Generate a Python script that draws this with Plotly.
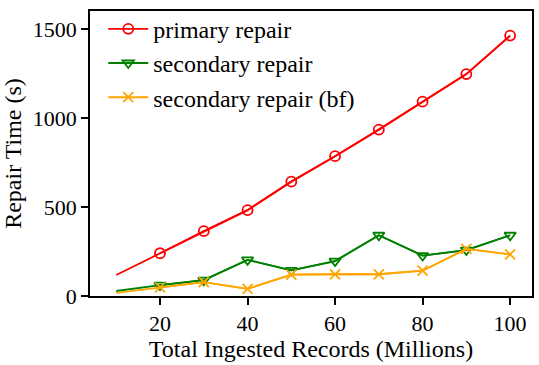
import plotly.graph_objects as go

records = [10, 20, 30, 40, 50, 60, 70, 80, 90, 100]
primary_repair = [118, 240, 364, 482, 642, 785, 934, 1091, 1246, 1462]
secondary_repair = [28, 61, 89, 203, 144, 196, 341, 227, 258, 341]
secondary_repair_bf = [18, 48, 78, 40, 120, 122, 122, 142, 264, 234]

series = [
    ("primary repair", primary_repair, "#ff0000", "circle-open"),
    ("secondary repair", secondary_repair, "#008000", "triangle-down-open"),
    ("secondary repair (bf)", secondary_repair_bf, "#ffa500", "x-thin-open"),
]

font = "Liberation Serif"

fig = go.Figure()
for name, ys, color, symbol in series:
    # full line (first point has no marker in the original)
    fig.add_trace(go.Scatter(x=records, y=ys, mode="lines",
                             line=dict(color=color, width=1.8),
                             showlegend=False, hoverinfo="skip"))
    fig.add_trace(go.Scatter(x=records[1:], y=ys[1:], mode="lines+markers", name=name,
                             line=dict(color=color, width=1.8),
                             marker=dict(symbol=symbol, size=10, color=color,
                                         line=dict(color=color, width=1.8))))

axis_common = dict(
    showline=True, linecolor="black", linewidth=1.5, mirror=True,
    ticks="outside", ticklen=7, tickwidth=1.5, tickcolor="black",
    showgrid=False, zeroline=False, automargin=False,
    tickfont=dict(family=font, size=22, color="black"),
)

fig.update_xaxes(range=[4, 105], tickvals=[20, 40, 60, 80, 100],
                 title=dict(text="Total Ingested Records (Millions)",
                            font=dict(family=font, size=24, color="black"), standoff=4),
                 **axis_common)
fig.update_yaxes(range=[0, 1600], tickvals=[0, 500, 1000, 1500],
                 title=dict(text="Repair Time (s)",
                            font=dict(family=font, size=24, color="black"), standoff=8),
                 **axis_common)

fig.update_layout(
    template="none",
    width=539, height=365,
    margin=dict(l=90, r=7, t=7, b=69),
    paper_bgcolor="white", plot_bgcolor="white",
    font=dict(family=font, color="black"),
    legend=dict(x=0.03, y=1.015, xanchor="left", yanchor="top",
                bgcolor="rgba(0,0,0,0)", borderwidth=0,
                font=dict(family=font, size=24, color="black"),
                tracegroupgap=0, itemwidth=40),
)

# page body has a default 8px margin; remove it so the figure sits at 0,0
fig.write_html("out.html", config={"displayModeBar": False},
               post_script="document.body.style.margin='0';")
